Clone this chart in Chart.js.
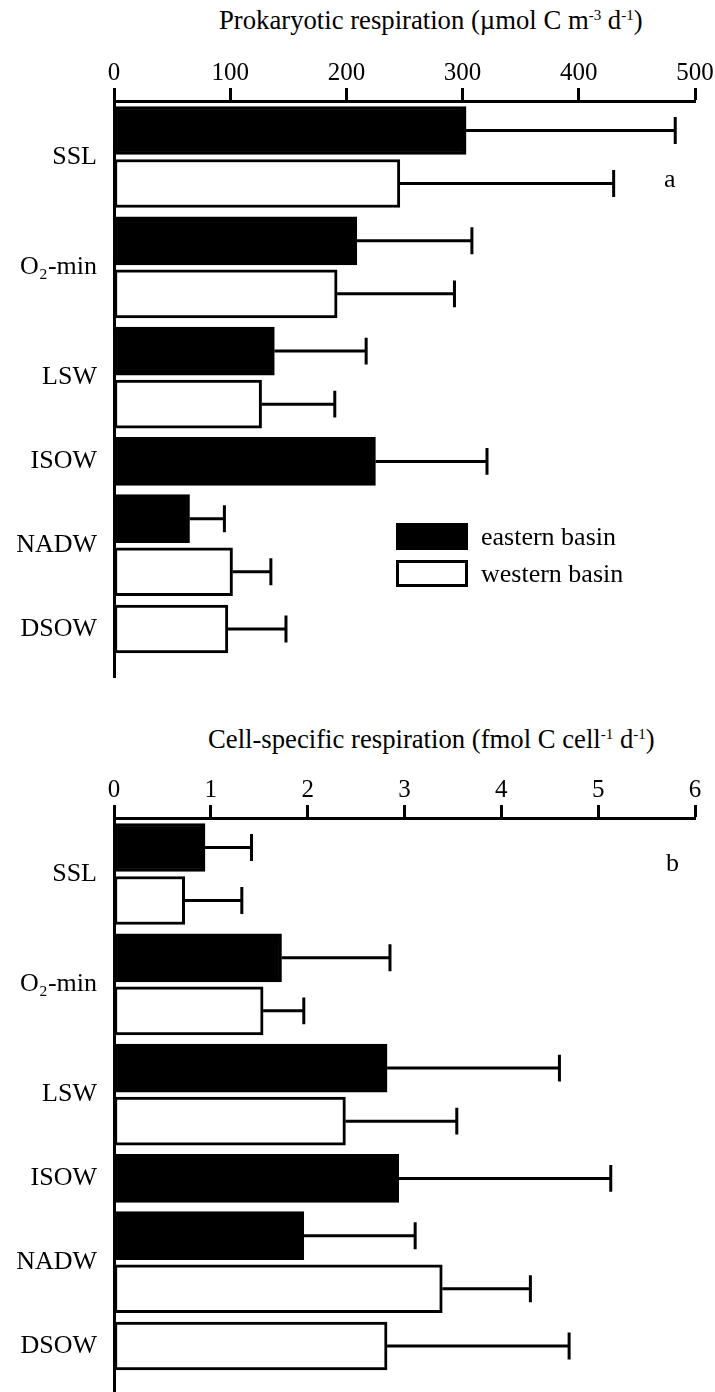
<!DOCTYPE html>
<html>
<head>
<meta charset="utf-8">
<script src="https://cdn.jsdelivr.net/npm/chart.js@4.4.1/dist/chart.umd.min.js"></script>
<style>
  html, body { margin: 0; padding: 0; background: #fff; overflow: hidden; }
  body { width: 715px; height: 1392px; position: relative; color: #000;
         font-family: "Liberation Serif", "Times New Roman", serif; }
  .panel { position: absolute; left: 0; width: 715px; height: 700px; }
  .title { position: absolute; font-size: 26.7px; line-height: 26px; white-space: nowrap; }
  .title sup { font-size: 15px; line-height: 0; vertical-align: 9px; }
  .tag { position: absolute; font-size: 26px; line-height: 26px; }
  #legend { position: absolute; left: 396px; top: 518px; font-size: 26px; }
  #legend .row { display: flex; align-items: center; height: 37px; }
  #legend .box { width: 72px; height: 27px; box-sizing: border-box; border: 3px solid #000; margin-right: 13px; }
</style>
</head>
<body>

<div class="title" style="left:219px; top:7px;">Prokaryotic respiration (µmol C m<sup>-3</sup> d<sup>-1</sup>)</div>
<div class="panel" style="top:0;"><canvas id="chartA" width="715" height="700"></canvas></div>
<div class="tag" style="left:664px; top:166px;">a</div>
<div id="legend"></div>

<div class="title" style="left:208px; top:726px;">Cell-specific respiration (fmol C cell<sup>-1</sup> d<sup>-1</sup>)</div>
<div class="panel" style="top:717px;"><canvas id="chartB" width="715" height="700"></canvas></div>
<div class="tag" style="left:666px; top:850px;">b</div>

<script>
// water masses, top to bottom
const waterMasses = ['SSL', 'O\u2082-min', 'LSW', 'ISOW', 'NADW', 'DSOW'];

// prokaryotic respiration (µmol C m-3 d-1), mean and SD
const eastResp   = [303, 209, 138, 225, 65, null];
const eastRespSd = [180, 99, 79, 96, 30, null];
const westResp   = [246, 192, 127, null, 102, 98];
const westRespSd = [184, 101, 63, null, 33, 50];

// cell-specific respiration (fmol C cell-1 d-1), mean and SD
const eastCsr   = [0.94, 1.73, 2.82, 2.94, 1.96, null];
const eastCsrSd = [0.48, 1.12, 1.78, 2.19, 1.15, null];
const westCsr   = [0.73, 1.54, 2.39, null, 3.39, 2.82];
const westCsrSd = [0.59, 0.42, 1.15, null, 0.91, 1.88];

const respTicks = [0, 100, 200, 300, 400, 500];
const csrTicks  = [0, 1, 2, 3, 4, 5, 6];

const serif = '"Liberation Serif", "Times New Roman", serif';
const groupGap = 0.08;

// each bar gets its own row, rows of one water mass stay together
function buildRows(east, eastSd, west, westSd) {
  const eastData = [], westData = [], centers = [];
  let row = 0;
  waterMasses.forEach((name, g) => {
    const pos = [];
    if (east[g] !== null) {
      const y = row + groupGap * g;
      eastData.push({ x: east[g], y: y, sd: eastSd[g] });
      pos.push(y); row++;
    }
    if (west[g] !== null) {
      const y = row + groupGap * g;
      westData.push({ x: west[g], y: y, sd: westSd[g] });
      pos.push(y); row++;
    }
    centers.push(pos.reduce((a, b) => a + b, 0) / pos.length);
  });
  return { eastData, westData, centers, last: row - 1 + groupGap * (waterMasses.length - 1) };
}

const errorBars = {
  id: 'errorBars',
  afterDatasetsDraw(chart) {
    const ctx = chart.ctx;
    const xs = chart.scales.x;
    ctx.save();
    ctx.strokeStyle = '#000';
    ctx.lineWidth = 3;
    chart.data.datasets.forEach((ds, i) => {
      chart.getDatasetMeta(i).data.forEach((bar, j) => {
        const pt = ds.data[j];
        const x0 = xs.getPixelForValue(pt.x);
        const x1 = xs.getPixelForValue(pt.x + pt.sd);
        const cap = bar.height * 0.28;
        ctx.beginPath();
        ctx.moveTo(x0, bar.y);
        ctx.lineTo(x1, bar.y);
        ctx.moveTo(x1, bar.y - cap);
        ctx.lineTo(x1, bar.y + cap);
        ctx.stroke();
      });
    });
    ctx.restore();
  }
};

function makeChart(id, east, eastSd, west, westSd, tickVals) {
  const rows = buildRows(east, eastSd, west, westSd);
  return new Chart(document.getElementById(id), {
    type: 'bar',
    data: {
      datasets: [
        { label: 'eastern basin', data: rows.eastData, backgroundColor: '#000', borderColor: '#000' },
        { label: 'western basin', data: rows.westData, backgroundColor: '#fff', borderColor: '#000' }
      ]
    },
    options: {
      indexAxis: 'y',
      responsive: false,
      animation: false,
      layout: { padding: { top: 0, right: 20, bottom: 23, left: 0 } },
      datasets: { bar: { barThickness: 48, grouped: false, borderWidth: 3, borderSkipped: false } },
      plugins: { legend: { display: false }, tooltip: { enabled: false } },
      scales: {
        x: {
          type: 'linear',
          position: 'top',
          min: tickVals[0],
          max: tickVals[tickVals.length - 1],
          afterBuildTicks: s => { s.ticks = tickVals.map(v => ({ value: v })); },
          afterFit: s => { s.height = 101; },
          grid: { drawOnChartArea: false, drawTicks: true, tickLength: 13, tickWidth: 3, tickColor: '#000' },
          border: { display: true, color: '#000', width: 3 },
          ticks: { color: '#000', padding: 0, maxRotation: 0, font: { family: serif, size: 25 } }
        },
        y: {
          type: 'linear',
          reverse: true,
          offset: false,
          min: -0.556,
          max: rows.last + 0.905,
          afterBuildTicks: s => { s.ticks = rows.centers.map(v => ({ value: v })); },
          afterFit: s => { s.width = 114; s.paddingTop = 0; s.paddingBottom = 0; },
          grid: { drawOnChartArea: false, drawTicks: false, offset: false },
          border: { display: true, color: '#000', width: 3 },
          ticks: { color: '#000', padding: 17, autoSkip: false,
                   font: { family: serif, size: 26 },
                   callback: (v, i) => waterMasses[i] }
        }
      }
    },
    plugins: [errorBars]
  });
}

const chartA = makeChart('chartA', eastResp, eastRespSd, westResp, westRespSd, respTicks);
const chartB = makeChart('chartB', eastCsr, eastCsrSd, westCsr, westCsrSd, csrTicks);

// legend built from the datasets of the first chart
const legend = document.getElementById('legend');
chartA.data.datasets.forEach(ds => {
  const row = document.createElement('div');
  row.className = 'row';
  const box = document.createElement('span');
  box.className = 'box';
  box.style.background = ds.backgroundColor;
  row.appendChild(box);
  row.appendChild(document.createTextNode(ds.label));
  legend.appendChild(row);
});
</script>
</body>
</html>
